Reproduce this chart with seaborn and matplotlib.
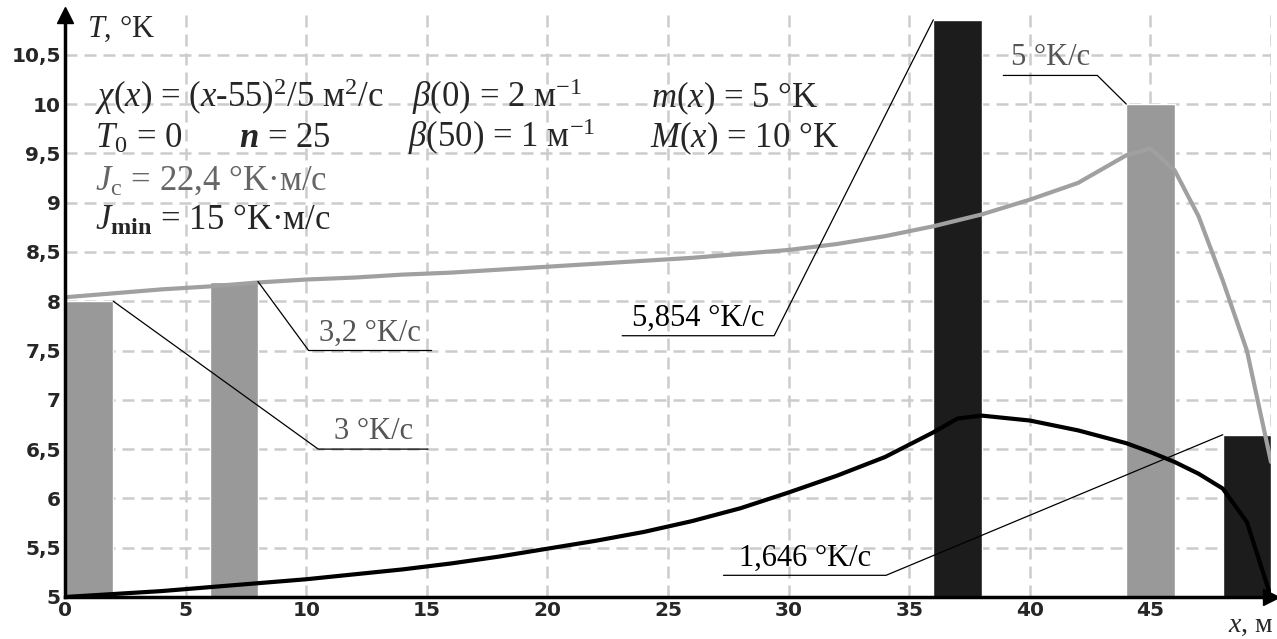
import numpy as np
import pandas as pd
import matplotlib
matplotlib.use("Agg")
import matplotlib.pyplot as plt
import seaborn as sns

# curve samples (x in m, T in °K)
curve_x = [0, 2, 4, 6, 8, 10, 12, 14, 16, 18, 20, 22, 24, 26, 28, 30, 32, 34,
           36, 37, 38, 40, 42, 44, 45, 46, 47, 48, 49, 50]
gray_T = [8.04, 8.08, 8.12, 8.15, 8.19, 8.22, 8.24, 8.27, 8.29, 8.32, 8.35, 8.38,
          8.41, 8.44, 8.48, 8.52, 8.58, 8.66, 8.76, 8.82, 8.88, 9.03, 9.20, 9.48,
          9.55, 9.33, 8.86, 8.21, 7.50, 6.37]
black_T = [5.00, 5.03, 5.06, 5.10, 5.14, 5.18, 5.23, 5.28, 5.34, 5.41, 5.49, 5.57,
           5.66, 5.77, 5.90, 6.06, 6.23, 6.42, 6.67, 6.81, 6.84, 6.79, 6.69, 6.56,
           6.47, 6.37, 6.25, 6.10, 5.76, 5.00]

# control bars: centre, rate (°K/s), colour group
bar_x = [1, 7, 37, 45, 49]
bar_rate = [3, 3.2, 5.854, 5, 1.646]
bar_kind = ["gray", "gray", "black", "gray", "black"]
bar_labels = ["3 °K/с", "3,2 °K/с", "5,854 °K/с", "5 °K/с", "1,646 °K/с"]

T_base = 5
x_ticks = [0, 5, 10, 15, 20, 25, 30, 35, 40, 45]
y_ticks = [5, 5.5, 6, 6.5, 7, 7.5, 8, 8.5, 9, 9.5, 10, 10.5]

GRAY_BAR = "#999999"
BLACK_BAR = "#1c1c1c"
GRAY_LINE = "#a0a0a0"

sns.set_style("white")
plt.rcParams["font.family"] = ["Liberation Serif", "DejaVu Serif"]
plt.rcParams["mathtext.fontset"] = "custom"
plt.rcParams["mathtext.rm"] = "Liberation Serif"
plt.rcParams["mathtext.it"] = "Liberation Serif:italic"
plt.rcParams["mathtext.bf"] = "Liberation Serif:bold"
plt.rcParams["mathtext.bfit"] = "Liberation Serif:bold:italic"

fig = plt.figure(figsize=(12.77, 6.39), dpi=100)
ax = fig.add_axes([65 / 1277, 42 / 639, 1206 / 1277, 581.7 / 639])

bars = pd.DataFrame({"x": bar_x,
                     "top": [T_base + r for r in bar_rate],
                     "kind": bar_kind})
sns.barplot(data=bars, x="x", y="top", hue="kind",
            palette={"gray": GRAY_BAR, "black": BLACK_BAR},
            native_scale=True, dodge=False, width=0.5, errorbar=None,
            saturation=1, legend=False, ax=ax, zorder=2)

sns.lineplot(x=curve_x, y=gray_T, color=GRAY_LINE, lw=3, ax=ax, zorder=3)
sns.lineplot(x=curve_x, y=black_T, color="black", lw=3, ax=ax, zorder=4)

ax.set_xlim(0, 50)
ax.set_ylim(5, 10.9)

# dashed grid, including the line at x = 50
ax.set_axisbelow(True)
ax.grid(True, ls=(0, (4.8, 2.8)), color="#cccccc", lw=1.8)
ax.axvline(50, ls=(0, (4.8, 2.8)), color="#cccccc", lw=1.8, zorder=0)

ax.set_xticks(x_ticks)
ax.set_xticklabels([str(t) for t in x_ticks], fontfamily="DejaVu Sans",
                   fontweight="bold", fontsize=14.5)
ax.set_yticks(y_ticks)
ax.set_yticklabels([("%g" % t).replace(".", ",") for t in y_ticks],
                   fontfamily="DejaVu Sans", fontweight="bold", fontsize=14.5)
ax.tick_params(length=0, pad=3)
ax.set_xlabel("")
ax.set_ylabel("")

for s in ["top", "right"]:
    ax.spines[s].set_visible(False)
for s in ["left", "bottom"]:
    ax.spines[s].set_linewidth(2.5)
    ax.spines[s].set_color("black")
    ax.spines[s].set_zorder(6)
ax.plot(0, 1, "^k", ms=11, transform=ax.transAxes, clip_on=False, zorder=7)
ax.plot(1, 0, ">k", ms=11, transform=ax.transAxes, clip_on=False, zorder=7)

ax.text(0.9, 10.68, "$T$, °K", fontsize=22)
ax.text(50.1, 4.645, "$x$, м", fontsize=20, ha="right")

# parameter block
fs = 25
ax.text(1.25, 9.97, "$\\chi$($x$) = ($x$-55)$^2$/5 м$^2$/с", fontsize=fs)
ax.text(14.4, 9.97, "$\\beta$(0) = 2 м$^{-1}$", fontsize=fs)
ax.text(24.3, 9.97, "$m$($x$) = 5 °K", fontsize=fs)
ax.text(1.25, 9.56, "$T_0$ = 0", fontsize=fs)
ax.text(7.2, 9.56, "$\\mathbfit{n}$ = 25", fontsize=fs)
ax.text(14.2, 9.56, "$\\beta$(50) = 1 м$^{-1}$", fontsize=fs)
ax.text(24.25, 9.56, "$M$($x$) = 10 °K", fontsize=fs)
ax.text(1.25, 9.13, "$J_{\\mathrm{с}}$ = 22,4 °K·м/с", fontsize=fs, color="#666666")
ax.text(1.25, 8.72, "$J_{\\mathbf{min}}$ = 15 °K·м/с", fontsize=fs)

# leader lines for bar labels: bar corner -> elbow -> end of underline
leaders = [
    ((2, 8.0), (10.5, 6.5), (15.05, 6.5), "#555555"),
    ((8, 8.2), (10.1, 7.5), (15.2, 7.5), "#555555"),
    ((36, 10.854), (29.4, 7.65), (23.1, 7.65), "black"),
    ((44, 10.0), (42.8, 10.29), (38.9, 10.29), "#555555"),
    ((48, 6.646), (34.04, 5.22), (27.3, 5.22), "black"),
]
for (p0, p1, p2, tc), lab in zip(leaders, bar_labels):
    ax.plot([p0[0], p1[0], p2[0]], [p0[1], p1[1], p2[1]], color="black",
            lw=0.9, zorder=5, clip_on=False)
    ax.text((p1[0] + p2[0]) / 2, p1[1] + 0.03, lab, fontsize=22, color=tc,
            ha="center", va="bottom", zorder=5)

fig.savefig("out.png", dpi=100)
